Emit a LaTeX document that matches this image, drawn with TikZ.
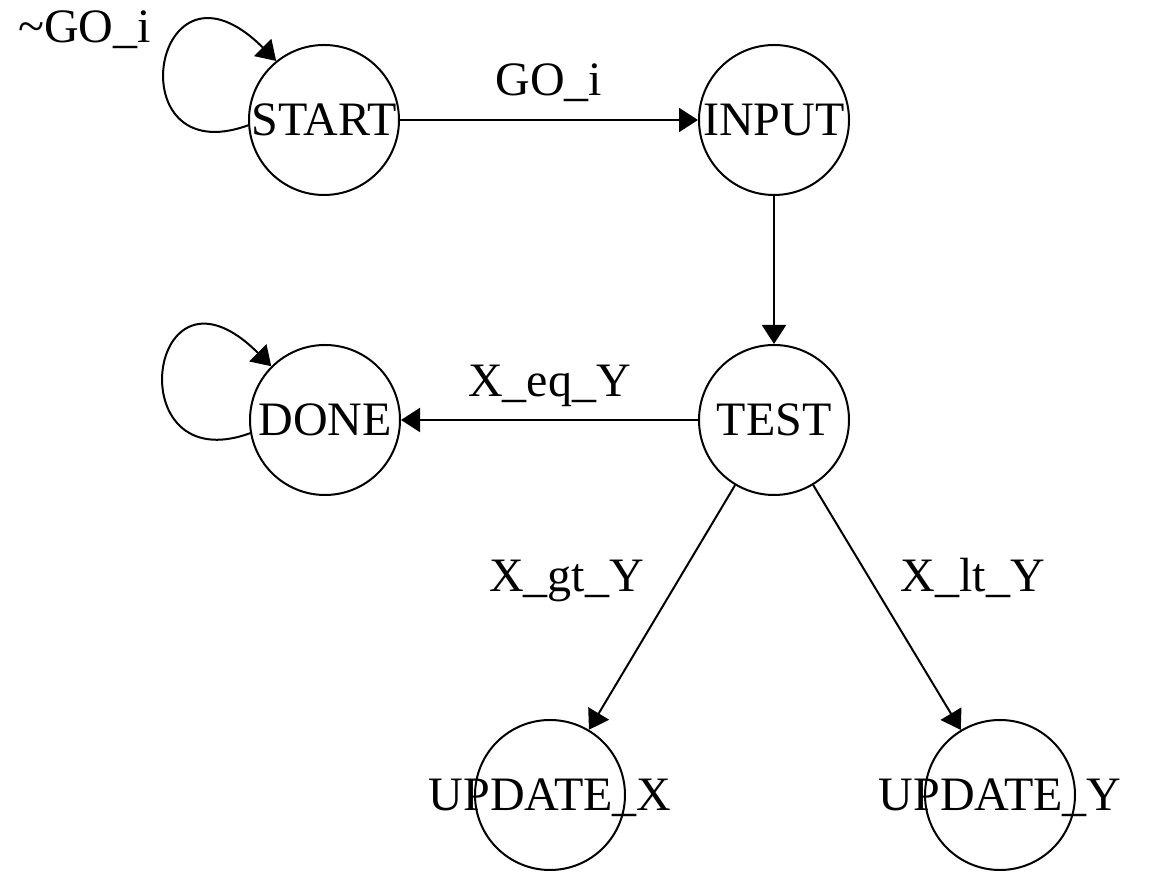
\documentclass[tikz,border=0pt]{standalone}
\usepackage{fontspec}
\setmainfont{Liberation Serif}
\usetikzlibrary{arrows.meta}

\begin{document}
\begin{tikzpicture}[x=1pt,y=1pt,line width=2pt,
	font=\fontsize{48}{58}\selectfont,
	>={Triangle[length=19pt,width=24pt]},
	every node/.style={text height=32pt,text depth=0pt},
	state/.style={circle,draw,minimum size=150pt,inner sep=0pt},
	lbl/.style={inner sep=0pt},
	selfloop/.style={out=200,in=135,out distance=142pt,in distance=175pt}]
	\useasboundingbox (0,0) rectangle (1152,893);

	\node[state] (START) at (324,773) {\makebox[0pt]{START}};
	\node[state] (INPUT) at (774,773) {\makebox[0pt]{INPUT}};
	\node[state] (TEST)  at (774,473) {\makebox[0pt]{TEST}};
	\node[state] (DONE)  at (325,473) {\makebox[0pt]{DONE}};
	\node[state] (UPDX)  at (550,98)  {\makebox[0pt]{UPDATE\_X}};
	\node[state] (UPDY)  at (1000,98) {\makebox[0pt]{UPDATE\_Y}};

	\draw[->] (START.-176) to[selfloop] (START.129);
	\node[lbl,anchor=base east] (notGO) at ([shift={(-172,77)}]START.center) {\textasciitilde GO\_i};
	\draw[->] (START) -- node[lbl,above=23pt] {GO\_i} (INPUT);
	\draw[->] (INPUT) -- (TEST);
	\draw[->] (TEST) -- node[lbl,above=22pt] {X\_eq\_Y} (DONE);
	\draw[->] (DONE.-170) to[selfloop] (DONE.135);
	\draw[->] (TEST) -- node[lbl,pos=0.37,left=36pt] {X\_gt\_Y} (UPDX);
	\draw[->] (TEST) -- node[lbl,pos=0.37,right=32pt] {X\_lt\_Y} (UPDY);
\end{tikzpicture}
\end{document}
